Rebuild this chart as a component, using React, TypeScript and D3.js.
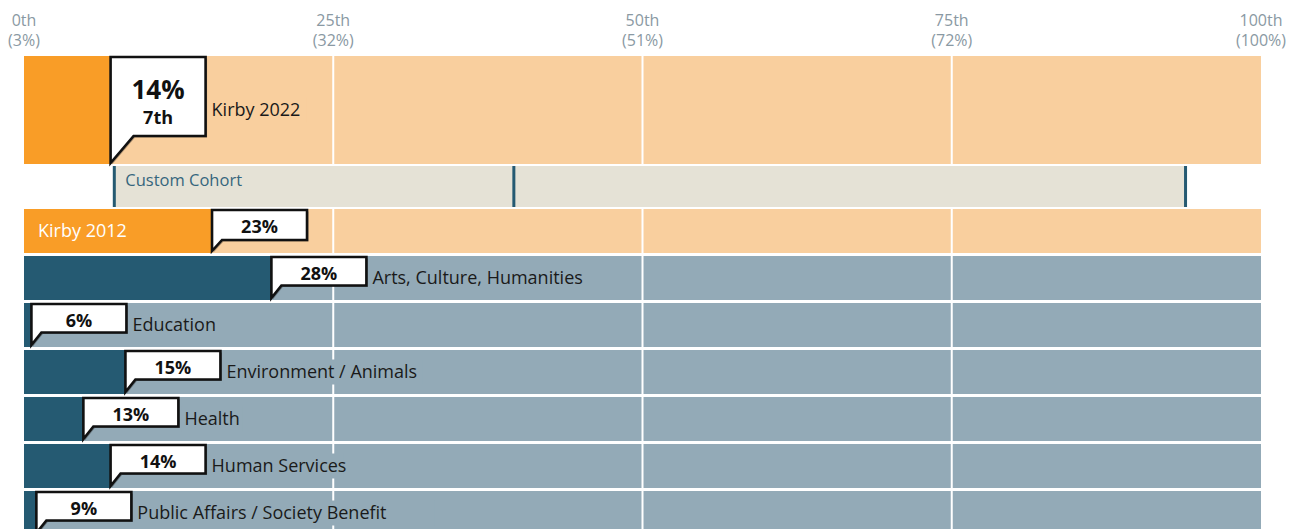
import React from "react";
import * as d3 from "d3";

// percentile axis
const tickPercentiles = [0, 25, 50, 75, 100];
const tickNames = ["0th", "25th", "50th", "75th", "100th"];
const tickValues = ["(3%)", "(32%)", "(51%)", "(72%)", "(100%)"];

// Kirby rows
const kirby2022 = { label: "Kirby 2022", value: "14%", rank: "7th", percentile: 7 };
const kirby2012 = { label: "Kirby 2012", value: "23%", percentile: 15.2 };

// custom cohort markers (percentile positions)
const cohortMarks = [7.3, 39.6, 93.9];

// category rows
const categories = [
  "Arts, Culture, Humanities",
  "Education",
  "Environment / Animals",
  "Health",
  "Human Services",
  "Public Affairs / Society Benefit",
];
const categoryValues = ["28%", "6%", "15%", "13%", "14%", "9%"];
const categoryPercentiles = [20, 0.6, 8.2, 4.8, 7, 1];

const W = 1300;
const H = 529;
const FONT = "'Open Sans', 'Noto Sans', sans-serif";

const ORANGE = "#f99d27";
const ORANGE_BG = "#f9cf9e";
const TEAL = "#255a72";
const TEAL_BG = "#93aab7";
const COHORT_BG = "#e5e2d6";

const x = d3.scaleLinear().domain([0, 100]).range([24, 1261]);

const rowBand = d3
  .scaleBand<string>()
  .domain(categories)
  .range([256, 256 + categories.length * 47 - 3])
  .paddingInner(3 / 47)
  .paddingOuter(0);

// callout path: box with a pointer at bottom-left reaching the row bottom
function calloutPath(x0: number, top: number, w: number, h: number, tipY: number, tailW: number) {
  const p = d3.path();
  p.moveTo(x0, tipY);
  p.lineTo(x0, top);
  p.lineTo(x0 + w, top);
  p.lineTo(x0 + w, top + h);
  p.lineTo(x0 + tailW, top + h);
  p.closePath();
  return p.toString();
}

function Callout(props: {
  x0: number; top: number; w: number; h: number; tipY: number; tailW: number; children: React.ReactNode;
}) {
  const d = calloutPath(props.x0, props.top, props.w, props.h, props.tipY, props.tailW);
  return (
    <g>
      <path d={d} transform="translate(1.5,1.5)" fill="rgba(0,0,0,0.3)" />
      <path d={d} fill="#fff" stroke="#111" strokeWidth={2.6} strokeLinejoin="miter" />
      {props.children}
    </g>
  );
}

function Gridlines(props: { y: number; h: number }) {
  return (
    <g>
      {tickPercentiles.slice(1, 4).map((t) => (
        <rect key={t} x={x(t) - 1} y={props.y} width={2} height={props.h} fill="#fff" />
      ))}
    </g>
  );
}

function RowLabel(props: { x0: number; cy: number; text: string; bg: string }) {
  const w = props.text.length * 9.2;
  return (
    <g>
      <rect x={props.x0 - 3} y={props.cy - 12.5} width={w + 6} height={25} fill={props.bg} />
      <text x={props.x0} y={props.cy} dy="0.36em" fontSize={18} fill="#1a1a1a" fontFamily={FONT}>
        {props.text}
      </text>
    </g>
  );
}

export default function App() {
  const boxW = 95;

  // Kirby 2022 row
  const r1 = { y: 56, h: 108 };
  const k22x = x(kirby2022.percentile);

  // cohort row
  const rc = { y: 166, h: 41 };

  // Kirby 2012 row
  const r2 = { y: 209, h: 44 };
  const k12x = x(kirby2012.percentile);

  return (
    <div style={{ position: "absolute", left: 0, top: 0 }}>
      <svg width={W} height={H} style={{ display: "block" }}>
        {/* axis labels */}
        {tickPercentiles.map((t, i) => (
          <g key={t} fontFamily={FONT} fontSize={16} fill="#8a99a3" textAnchor="middle">
            <text x={x(t)} y={26}>{tickNames[i]}</text>
            <text x={x(t)} y={46}>{tickValues[i]}</text>
          </g>
        ))}

        {/* Kirby 2022 */}
        <rect x={x(0)} y={r1.y} width={x(100) - x(0)} height={r1.h} fill={ORANGE_BG} />
        <Gridlines y={r1.y} h={r1.h} />
        <rect x={x(0)} y={r1.y} width={k22x - x(0)} height={r1.h} fill={ORANGE} />
        <Callout x0={k22x} top={r1.y + 1} w={boxW} h={79} tipY={r1.y + r1.h - 1} tailW={23}>
          <text x={k22x + boxW / 2} y={r1.y + 43} textAnchor="middle" fontFamily={FONT} fontWeight={700} fontSize={26} fill="#111">
            {kirby2022.value}
          </text>
          <text x={k22x + boxW / 2} y={r1.y + 68} textAnchor="middle" fontFamily={FONT} fontWeight={700} fontSize={18} fill="#111">
            {kirby2022.rank}
          </text>
        </Callout>
        <RowLabel x0={k22x + boxW + 6} cy={r1.y + r1.h / 2} text={kirby2022.label} bg={ORANGE_BG} />

        {/* Custom cohort */}
        <rect x={x(cohortMarks[0])} y={rc.y} width={x(cohortMarks[2]) - x(cohortMarks[0])} height={rc.h} fill={COHORT_BG} />
        {cohortMarks.map((m) => (
          <rect key={m} x={x(m) - 1.5} y={rc.y} width={3} height={rc.h} fill={TEAL} />
        ))}
        <text x={x(cohortMarks[0]) + 11} y={rc.y + 20} fontFamily={FONT} fontSize={16.5} fill="#36667d">
          Custom Cohort
        </text>

        {/* Kirby 2012 */}
        <rect x={x(0)} y={r2.y} width={x(100) - x(0)} height={r2.h} fill={ORANGE_BG} />
        <Gridlines y={r2.y} h={r2.h} />
        <rect x={x(0)} y={r2.y} width={k12x - x(0)} height={r2.h} fill={ORANGE} />
        <text x={x(0) + 14} y={r2.y + r2.h / 2} dy="0.36em" fontFamily={FONT} fontSize={18} fill="#fff">
          {kirby2012.label}
        </text>
        <Callout x0={k12x} top={r2.y + 1} w={boxW} h={30} tipY={r2.y + r2.h - 2} tailW={10}>
          <text x={k12x + boxW / 2} y={r2.y + 24} textAnchor="middle" fontFamily={FONT} fontWeight={700} fontSize={18} fill="#111">
            {kirby2012.value}
          </text>
        </Callout>

        {/* categories */}
        {categories.map((c, i) => {
          const y = rowBand(c) as number;
          const h = rowBand.bandwidth();
          const bx = x(categoryPercentiles[i]);
          return (
            <g key={c}>
              <rect x={x(0)} y={y} width={x(100) - x(0)} height={h} fill={TEAL_BG} />
              <Gridlines y={y} h={h} />
              <rect x={x(0)} y={y} width={bx - x(0)} height={h} fill={TEAL} />
              <Callout x0={bx} top={y + 1} w={boxW} h={28.5} tipY={y + h - 2} tailW={10}>
                <text x={bx + boxW / 2} y={y + 24} textAnchor="middle" fontFamily={FONT} fontWeight={700} fontSize={18} fill="#111">
                  {categoryValues[i]}
                </text>
              </Callout>
              <RowLabel x0={bx + boxW + 6} cy={y + h / 2} text={c} bg={TEAL_BG} />
            </g>
          );
        })}
      </svg>
    </div>
  );
}
